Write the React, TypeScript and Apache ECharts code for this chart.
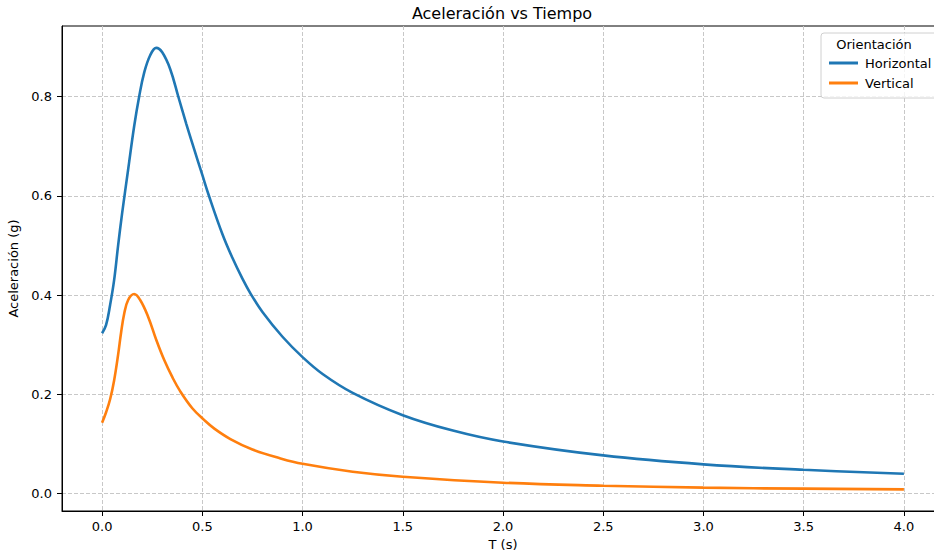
import React, { useEffect, useRef } from "react";
import * as echarts from "echarts";

const timeH = [0, 0.02, 0.04, 0.06, 0.08, 0.1, 0.13, 0.16, 0.185, 0.21, 0.24, 0.27, 0.3, 0.34, 0.38, 0.42, 0.46, 0.5, 0.533, 0.6, 0.65, 0.7, 0.742, 0.8, 0.9, 1.0, 1.1, 1.25, 1.5, 1.75, 2.0, 2.5, 3.0, 3.5, 4.0];
const horizontal = [0.323, 0.34, 0.38, 0.43, 0.5, 0.565, 0.653, 0.74, 0.8, 0.848, 0.883, 0.898, 0.889, 0.855, 0.8, 0.745, 0.693, 0.642, 0.6, 0.523, 0.475, 0.433, 0.402, 0.366, 0.316, 0.275, 0.241, 0.203, 0.158, 0.127, 0.105, 0.077, 0.059, 0.048, 0.04];

const timeV = [0, 0.02, 0.04, 0.06, 0.08, 0.095, 0.11, 0.13, 0.16, 0.19, 0.23, 0.27, 0.31, 0.35, 0.39, 0.45, 0.51, 0.56, 0.64, 0.75, 0.89, 1.0, 1.25, 1.5, 2.0, 2.5, 3.0, 3.5, 4.0];
const vertical = [0.143, 0.164, 0.19, 0.228, 0.28, 0.325, 0.362, 0.39, 0.402, 0.39, 0.356, 0.31, 0.269, 0.235, 0.206, 0.172, 0.148, 0.131, 0.11, 0.089, 0.071, 0.06, 0.044, 0.034, 0.022, 0.016, 0.012, 0.01, 0.0085];

const xTicks = [0, 0.5, 1.0, 1.5, 2.0, 2.5, 3.0, 3.5, 4.0];
const yTicks = [0, 0.2, 0.4, 0.6, 0.8];

const FONT = "DejaVu Sans";
const FS = 13;

export default function App() {
  const ref = useRef<HTMLDivElement>(null);
  useEffect(() => {
    document.body.style.margin = "0";
    document.body.style.overflow = "hidden";
    const chart = echarts.init(ref.current!, undefined, { renderer: "svg" });
    const splitLine = {
      show: true,
      lineStyle: { color: "#c8c8c8", type: [4, 2] as any, width: 1 },
    };
    chart.setOption({
      animation: false,
      grid: {
        left: 62,
        right: 6,
        top: 26,
        bottom: 46,
        show: true,
        borderColor: "#000",
        borderWidth: 1,
        containLabel: false,
        outerBoundsMode: "none",
      },
      xAxis: {
        type: "value",
        min: -0.2,
        max: 4.2,
        name: "T (s)",
        nameLocation: "middle",
        nameGap: 27,
        nameTextStyle: { fontFamily: FONT, fontSize: FS, color: "#000" },
        axisLine: { show: true, onZero: false, lineStyle: { color: "#000", width: 1 } },
        axisTick: { show: true, length: 5, lineStyle: { color: "#000" }, customValues: xTicks },
        axisLabel: {
          customValues: xTicks,
          formatter: (v: number) => v.toFixed(1),
          fontFamily: FONT,
          fontSize: FS,
          color: "#000",
          margin: 9,
        },
        splitLine,
      },
      yAxis: {
        type: "value",
        min: -0.035,
        max: 0.942,
        name: "Aceleración (g)",
        nameLocation: "middle",
        nameGap: 36,
        nameTextStyle: { fontFamily: FONT, fontSize: FS, color: "#000" },
        axisLine: { show: true, onZero: false, lineStyle: { color: "#000", width: 1 } },
        axisTick: { show: true, length: 5, lineStyle: { color: "#000" }, customValues: yTicks },
        axisLabel: {
          customValues: yTicks,
          formatter: (v: number) => v.toFixed(1),
          fontFamily: FONT,
          fontSize: FS,
          color: "#000",
          margin: 10,
        },
        splitLine,
      },
      legend: {
        orient: "vertical",
        left: 824,
        top: 50,
        icon: "rect",
        itemWidth: 29,
        itemHeight: 3,
        itemGap: 4,
        textStyle: { fontFamily: FONT, fontSize: FS, color: "#000", lineHeight: 16, padding: [0, 0, 0, 2] },
        data: ["Horizontal", "Vertical"],
      },
      graphic: [
        {
          type: "text",
          x: 502,
          y: 13,
          z: 10,
          style: {
            text: "Aceleración vs Tiempo",
            fill: "#000",
            font: `16px ${FONT}`,
            textAlign: "center",
            textVerticalAlign: "middle",
          },
        },
        {
          type: "rect",
          z: 3,
          shape: { x: 821, y: 33, width: 116, height: 65, r: 3 },
          style: { fill: "rgba(255,255,255,0.8)", stroke: "#d0d0d0", lineWidth: 1 },
        },
        {
          type: "text",
          x: 874,
          y: 44,
          z: 10,
          style: {
            text: "Orientación",
            fill: "#000",
            font: `${FS}px ${FONT}`,
            textAlign: "center",
            textVerticalAlign: "middle",
          },
        },
      ],
      series: [
        {
          name: "Horizontal",
          type: "line",
          data: timeH.map((t, i) => [t, horizontal[i]]),
          showSymbol: false,
          smooth: 0.4,
          lineStyle: { color: "#1f77b4", width: 2.6 },
          itemStyle: { color: "#1f77b4" },
        },
        {
          name: "Vertical",
          type: "line",
          data: timeV.map((t, i) => [t, vertical[i]]),
          showSymbol: false,
          smooth: 0.4,
          lineStyle: { color: "#ff7f0e", width: 2.6 },
          itemStyle: { color: "#ff7f0e" },
        },
      ],
    });
    return () => chart.dispose();
  }, []);
  return (
    <div
      ref={ref}
      style={{ position: "absolute", left: 0, top: 0, width: 950, height: 557 }}
    />
  );
}
